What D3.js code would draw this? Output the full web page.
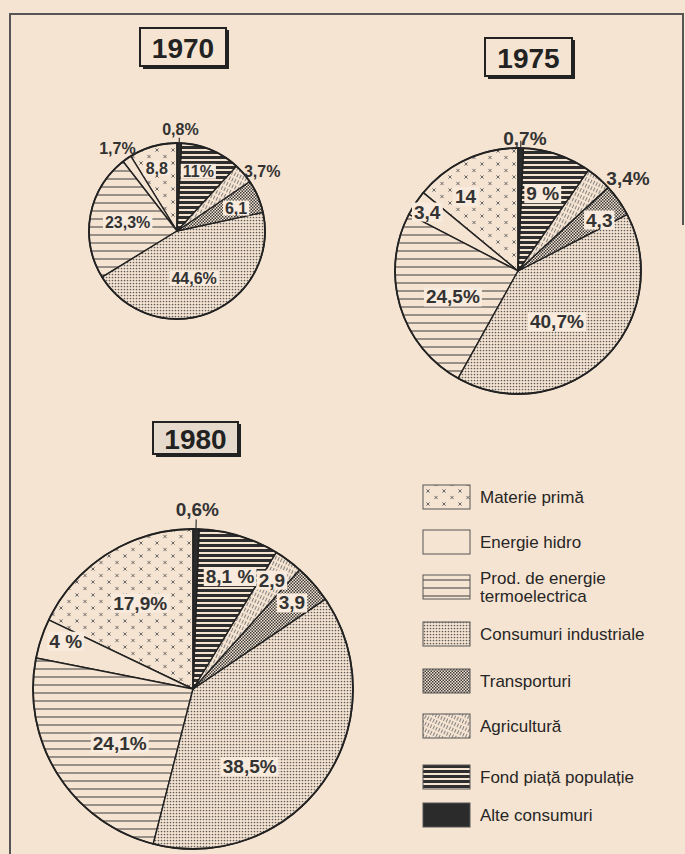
<!DOCTYPE html>
<html><head><meta charset="utf-8">
<script src="https://cdn.jsdelivr.net/npm/d3@7"></script>
<style>
body{margin:0;background:#f6e4d2;}
svg{display:block;font-family:"Liberation Sans",Arial,sans-serif;}
</style>
</head><body>
<svg id="c" width="685" height="854"></svg>
<script>
// ---------------- DATA ----------------
const categories = ["Materie primă","Energie hidro","Prod. de energie termoelectrica","Consumuri industriale","Transporturi","Agricultură","Fond piață populație","Alte consumuri"];
const years = ["1970","1975","1980"];
const values1970 = [8.8, 1.7, 23.3, 44.6, 6.1, 3.7, 11, 0.8];
const values1975 = [14, 3.4, 24.5, 40.7, 4.3, 3.4, 9, 0.7];
const values1980 = [17.9, 4, 24.1, 38.5, 3.9, 2.9, 8.1, 0.6];
const labels1970 = ["8,8","1,7%","23,3%","44,6%","6,1","3,7%","11%","0,8%"];
const labels1975 = ["14","3,4","24,5%","40,7%","4,3","3,4%","9 %","0,7%"];
const labels1980 = ["17,9%","4 %","24,1%","38,5%","3,9","2,9","8,1 %","0,6%"];

// ---------------- LAYOUT ----------------
const paper = "#f6e4d2";
const ink = "#262626";
const pieLayout = [
  {cx:177, cy:231, r:88,  fs:16, box:{x:140,y:28,w:86,h:38}},
  {cx:518, cy:271, r:123, fs:19, box:{x:485,y:38,w:87,h:38}},
  {cx:193, cy:689, r:160, fs:19, box:{x:153,y:422,w:85,h:32}}
];
// label placement: [radius factor, angle shift in degrees]
const labelPolar = [
  [[0.75,-2],[1.16,-1],[0.57,0],[0.57,2],[0.72,2],[1.18,6],[0.72,-3],[1.15,0.5]],
  [[0.74,-10],[0.88,-0.5],[0.57,-5],[0.52,6.6],[0.78,3],[1.17,8.8],[0.66,-1],[1.08,1.7]],
  [[0.63,0.6],[0.85,2.2],[0.57,-4.3],[0.6,18.7],[0.82,0.2],[0.84,-0.6],[0.74,1.5],[1.12,0.3]]
];
const legendY = [497,542,587,634,681,726,777,815];

const allValues = [values1970, values1975, values1980];
const allLabels = [labels1970, labels1975, labels1980];

const svg = d3.select("#c");
svg.append("rect").attr("width",685).attr("height",854).attr("fill",paper);

// ---------------- PATTERNS ----------------
const defs = svg.append("defs");
function pat(id,w,h,draw,transform){
  const p = defs.append("pattern").attr("id",id).attr("patternUnits","userSpaceOnUse")
    .attr("width",w).attr("height",h);
  if(transform) p.attr("patternTransform",transform);
  p.append("rect").attr("width",w).attr("height",h).attr("fill",paper);
  draw(p);
}
// Materie primă : small x marks, sparse
pat("p0",16,13,p=>{
  [[4,3.5],[12,10]].forEach(([x,y])=>{
    p.append("path").attr("d",`M${x-1.6},${y-1.6}L${x+1.6},${y+1.6}M${x+1.6},${y-1.6}L${x-1.6},${y+1.6}`)
     .attr("stroke","#5a5a5a").attr("stroke-width",0.9);
  });
});
// Energie hidro : blank
pat("p1",4,4,p=>{});
// Prod. termoelectrica : sparse horizontal lines
pat("p2",8,8,p=>{
  p.append("line").attr("x1",0).attr("x2",8).attr("y1",4).attr("y2",4).attr("stroke","#3a3a3a").attr("stroke-width",1);
});
// Consumuri industriale : dots
pat("p3",3,3,p=>{
  p.append("circle").attr("cx",1.5).attr("cy",1.5).attr("r",0.85).attr("fill","#5e5e5e");
});
// Transporturi : dense checker
pat("p4",3,3,p=>{
  p.append("rect").attr("x",0).attr("y",0).attr("width",1.5).attr("height",1.5).attr("fill","#3a3a3a");
  p.append("rect").attr("x",1.5).attr("y",1.5).attr("width",1.5).attr("height",1.5).attr("fill","#3a3a3a");
});
// Agricultură : light slanted hatch
pat("p5",3,6,p=>{
  p.append("line").attr("x1",1.5).attr("x2",1.5).attr("y1",0).attr("y2",4).attr("stroke","#777").attr("stroke-width",0.9);
},"rotate(25)");
// Fond piață populație : dark horizontal lines
pat("p6",6,5,p=>{
  p.append("rect").attr("x",0).attr("y",0).attr("width",6).attr("height",3).attr("fill","#2e2e2e");
});
// Alte consumuri : solid dark
pat("p7",4,4,p=>{
  p.append("rect").attr("width",4).attr("height",4).attr("fill","#2b2b2b");
});
const fillOf = i => `url(#p${i})`;

// ---------------- FRAME ----------------
svg.append("path").attr("d","M10,854L10,14L683,14L683,225")
  .attr("fill","none").attr("stroke","#555").attr("stroke-width",2);

// ---------------- PIES ----------------
const pie = d3.pie().sort(null).startAngle(0).endAngle(-2*Math.PI);
years.forEach((yr,yi)=>{
  const L = pieLayout[yi];
  const g = svg.append("g").attr("transform",`translate(${L.cx},${L.cy})`);
  const arcs = pie(allValues[yi]);
  const arc = d3.arc().innerRadius(0).outerRadius(L.r);
  g.selectAll("path.slice").data(arcs).join("path").attr("class","slice")
    .attr("d",arc).attr("fill",(d,i)=>fillOf(i))
    .attr("stroke","#222").attr("stroke-width",1.4).attr("stroke-linejoin","round");
  g.append("circle").attr("r",L.r).attr("fill","none").attr("stroke","#222").attr("stroke-width",1.8);

  // tick for smallest (Alte) slice
  const alte = arcs[7];
  const am = (alte.startAngle+alte.endAngle)/2;
  g.append("line")
    .attr("x1",L.r*Math.sin(am)).attr("y1",-L.r*Math.cos(am))
    .attr("x2",L.r*1.06*Math.sin(am)).attr("y2",-L.r*1.06*Math.cos(am))
    .attr("stroke","#333").attr("stroke-width",1.2);

  // labels
  arcs.forEach((d,i)=>{
    const [k,sh] = labelPolar[yi][i];
    const a = (d.startAngle+d.endAngle)/2 + sh*Math.PI/180;
    const x = k*L.r*Math.sin(a), y = -k*L.r*Math.cos(a);
    const lg = g.append("g");
    const t = lg.append("text").attr("x",x).attr("y",y)
      .attr("text-anchor","middle").attr("dominant-baseline","central")
      .attr("font-size",L.fs).attr("font-weight","bold").attr("fill","#333")
      .style("white-space","pre")
      .text(allLabels[yi][i]);
    if(k<1){
      const bb = t.node().getBBox();
      lg.insert("rect","text").attr("x",bb.x-2).attr("y",bb.y+1).attr("width",bb.width+4).attr("height",bb.height-2)
        .attr("fill","#f8ebdd");
    }
  });

  // title box
  const B = L.box;
  const tg = svg.append("g");
  tg.append("rect").attr("x",B.x).attr("y",B.y).attr("width",B.w).attr("height",B.h)
    .attr("fill", yi===2 ? "#e6dacd" : paper).attr("stroke","#222").attr("stroke-width",2);
  tg.append("path").attr("d",`M${B.x+B.w+1.5},${B.y+2}L${B.x+B.w+1.5},${B.y+B.h+1.5}L${B.x+3},${B.y+B.h+1.5}`)
    .attr("fill","none").attr("stroke","#222").attr("stroke-width",3);
  tg.append("text").attr("x",B.x+B.w/2).attr("y",B.y+B.h/2+1)
    .attr("text-anchor","middle").attr("dominant-baseline","central")
    .attr("font-size",28).attr("font-weight","bold").attr("fill","#222").text(yr);
});

// ---------------- LEGEND ----------------
const leg = svg.append("g");
categories.forEach((c,i)=>{
  const y = legendY[i];
  leg.append("rect").attr("x",423).attr("y",y-12).attr("width",47).attr("height",24)
    .attr("fill",fillOf(i)).attr("stroke","#555").attr("stroke-width",1);
  if(i===2){
    const tt = leg.append("text").attr("x",480).attr("y",y).attr("font-size",17).attr("fill",ink);
    tt.append("tspan").attr("x",480).attr("dy",-9).attr("dominant-baseline","central").text("Prod. de energie");
    tt.append("tspan").attr("x",480).attr("dy",18).attr("dominant-baseline","central").text("termoelectrica");
  } else {
    leg.append("text").attr("x",480).attr("y",y).attr("dominant-baseline","central")
      .attr("font-size",17).attr("fill",ink).text(c);
  }
});
</script>
</body></html>
